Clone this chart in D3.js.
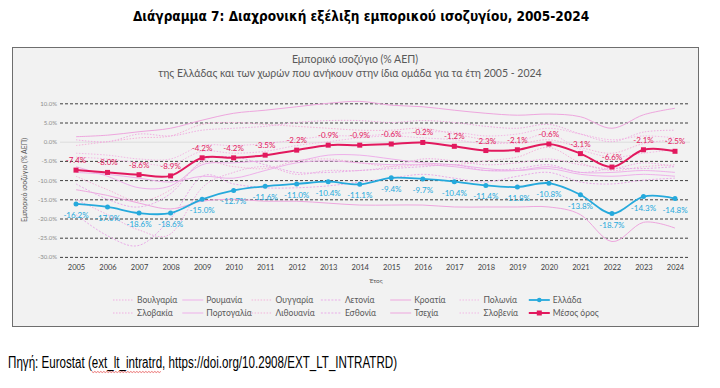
<!DOCTYPE html>
<html>
<head>
<meta charset="utf-8">
<script src="https://cdn.jsdelivr.net/npm/d3@7"></script>
<style>
  body { margin: 0; background: #fff; }
  svg { display: block; }
</style>
</head>
<body>
<div id="chart"></div>
<script>
// --- data ---
var years = ["2005","2006","2007","2008","2009","2010","2011","2012","2013","2014",
             "2015","2016","2017","2018","2019","2020","2021","2022","2023","2024"];

var greece  = [-16.2,-17.0,-18.6,-18.6,-15.0,-12.7,-11.6,-11.0,-10.4,-11.1,
               -9.4,-9.7,-10.4,-11.4,-11.8,-10.8,-13.8,-18.7,-14.3,-14.8];
var average = [-7.4,-8.0,-8.6,-8.9,-4.2,-4.2,-3.5,-2.2,-0.9,-0.9,
               -0.6,-0.2,-1.2,-2.3,-2.1,-0.6,-3.1,-6.6,-2.1,-2.5];

// faint country lines (estimated)
var bulgaria  = [-15.0,-19.0,-23.0,-24.0,-12.0,-8.0,-6.5,-8.5,-7.5,-7.5,-6.5,-4.5,-5.0,-6.0,-5.5,-4.5,-6.0,-7.0,-5.5,-6.5];
var romania   = [-6.5,-9.0,-12.0,-11.5,-6.0,-5.5,-5.0,-5.0,-3.5,-3.5,-4.5,-5.5,-6.0,-7.0,-7.5,-7.0,-8.5,-9.0,-8.5,-9.0];
var hungary   = [-1.0,0.0,1.0,1.5,4.5,5.0,4.5,4.0,3.5,3.0,3.0,3.5,2.0,0.5,-0.5,0.5,-1.5,-3.0,-0.5,0.5];
var latvia    = [-19.0,-24.5,-27.0,-20.0,-9.0,-11.0,-12.0,-12.0,-11.5,-10.5,-9.5,-8.5,-9.5,-10.5,-9.0,-8.0,-10.5,-11.0,-10.0,-9.5];
var croatia   = [-12.5,-14.0,-16.0,-17.5,-15.5,-15.0,-15.5,-15.5,-16.0,-16.5,-16.5,-16.5,-17.0,-17.0,-17.0,-17.0,-19.0,-26.0,-21.0,-22.5];
var poland    = [-3.0,-3.5,-4.5,-4.5,-1.0,-1.0,-0.5,0.5,1.5,1.5,2.0,2.5,2.5,1.5,2.0,3.5,2.0,0.5,1.5,1.0];
var slovakia  = [0.5,0.0,2.0,1.5,3.0,3.5,4.0,5.0,5.5,5.5,5.0,5.5,5.0,4.0,3.5,4.5,2.0,0.0,2.5,3.0];
var portugal  = [-8.0,-8.5,-9.5,-10.5,-9.0,-9.5,-7.5,-5.5,-5.0,-5.5,-6.0,-6.0,-6.5,-7.5,-7.5,-6.5,-8.0,-8.0,-7.5,-8.0];
var lithuania = [-9.0,-12.5,-15.5,-12.5,-5.5,-6.5,-7.0,-5.0,-4.5,-5.5,-6.5,-6.0,-6.0,-5.0,-4.0,-1.5,-5.5,-7.5,-6.5,-6.0];
var estonia   = [-11.0,-15.0,-17.0,-13.5,-5.0,-4.0,-6.0,-8.0,-8.0,-7.5,-7.0,-6.5,-6.0,-7.5,-7.0,-6.0,-8.0,-7.0,-7.0,-6.5];
var czechia   = [1.3,1.7,2.6,3.5,5.6,7.4,8.2,9.1,10.0,10.5,9.5,9.1,8.2,7.4,6.9,7.2,6.5,3.5,7.0,8.7];
var slovenia  = [-4.0,-4.5,-5.5,-6.0,-2.5,-3.0,-2.5,-1.0,0.0,1.0,1.5,1.0,0.5,-0.5,0.0,2.0,-2.0,-4.0,-3.0,-2.0];

// legend order: row 1 then row 2
var countryNames = ["Βουλγαρία","Ρουμανία","Ουγγαρία","Λετονία","Κροατία","Πολωνία",
                    "Σλοβακία","Πορτογαλία","Λιθουανία","Εσθονία","Τσεχία","Σλοβενία"];
var countryValues = [bulgaria, romania, hungary, latvia, croatia, poland,
                     slovakia, portugal, lithuania, estonia, czechia, slovenia];

var yTicks = [10, 5, 0, -5, -10, -15, -20, -25, -30];

// --- layout ---
var W = 720, H = 388;
var svg = d3.select("#chart").append("svg")
  .attr("width", W).attr("height", H);

var chartFont = "Lato, 'Open Sans', sans-serif";
var grey = "#595959";
var blue = "#25A9DC";
var pink = "#E2195E";

svg.append("text")
  .text("Διάγραμμα 7: Διαχρονική εξέλιξη εμπορικού ισοζυγίου, 2005-2024")
  .attr("x", 361).attr("y", 21)
  .attr("text-anchor", "middle")
  .style("font-family", "'Liberation Sans Narrow', 'DejaVu Sans Condensed', sans-serif")
  .style("font-weight", "bold")
  .style("font-size", "13.5px")
  .style("fill", "#000");

// chart frame
svg.append("rect")
  .attr("x", 12.5).attr("y", 47.5)
  .attr("width", 686).attr("height", 279)
  .style("fill", "#f2f2f2")
  .style("stroke", "#6e6e6e")
  .style("stroke-width", 1);

svg.append("text")
  .text("Εμπορικό ισοζύγιο (% ΑΕΠ)")
  .attr("x", 355).attr("y", 63)
  .attr("text-anchor", "middle")
  .style("font-family", chartFont).style("font-size", "10.5px").style("fill", grey);
svg.append("text")
  .text("της Ελλάδας και των χωρών που ανήκουν στην ίδια ομάδα για τα έτη 2005 - 2024")
  .attr("x", 350).attr("y", 76.5)
  .attr("text-anchor", "middle")
  .style("font-family", chartFont).style("font-size", "10.5px").style("fill", grey);

var x = d3.scalePoint().domain(years).range([76, 675]);
var y = d3.scaleLinear().domain([-30, 10]).range([256.9, 103.3]);

// y gridlines + labels
var yAxis = d3.axisLeft(y)
  .tickValues(yTicks)
  .tickSize(-630)
  .tickPadding(3)
  .tickFormat(function(d){ return d.toFixed(1) + "%"; });

var gy = svg.append("g").attr("transform", "translate(60,0)").call(yAxis);
gy.select(".domain").remove();
gy.selectAll("line")
  .style("stroke", function(d){ return d === 0 ? "#dcdcdc" : "#3f3f3f"; })
  .style("stroke-dasharray", function(d){ return d === 0 ? null : "3,2"; })
  .style("stroke-width", 1);
gy.selectAll("text")
  .style("font-family", chartFont).style("font-size", "6px").style("fill", "#8c8c8c");

// x labels
var xAxis = d3.axisBottom(x).tickSize(0).tickPadding(7);
var gx = svg.append("g").attr("transform", "translate(0,258)").call(xAxis);
gx.select(".domain").remove();
gx.selectAll("text")
  .style("font-family", chartFont).style("font-size", "7.5px").style("fill", "#404040");

svg.append("text")
  .text("Έτος")
  .attr("x", 376).attr("y", 283)
  .attr("text-anchor", "middle")
  .style("font-family", chartFont).style("font-size", "6.5px").style("fill", grey);

svg.append("text")
  .text("Εμπορικό ισοζύγιο (% ΑΕΠ)")
  .attr("transform", "translate(27,180) rotate(-90)")
  .attr("text-anchor", "middle")
  .style("font-family", chartFont).style("font-size", "7px").style("fill", grey);

var line = d3.line()
  .x(function(d, i){ return x(years[i]); })
  .y(function(d){ return y(d); })
  .curve(d3.curveCardinal.tension(0));

// faint country lines
var faintColors = ["#f0aee2","#eeb0ea","#f4b3da","#e9ace8","#eea6de","#f2b9e5"];
var faintDash = ["1.5,1.5","none","1.5,1.5","2,1.5","none","1.5,1.5"];

countryValues.forEach(function(vals, i){
  svg.append("path")
    .attr("d", line(vals))
    .style("fill", "none")
    .style("stroke", faintColors[i % faintColors.length])
    .style("stroke-width", 1)
    .style("stroke-dasharray", faintDash[i % faintDash.length]);
});

// average
svg.append("path")
  .attr("d", line(average))
  .style("fill", "none").style("stroke", pink).style("stroke-width", 2);
svg.selectAll("rect.avg").data(average).enter()
  .append("rect").attr("class", "avg")
  .attr("x", function(d, i){ return x(years[i]) - 2.5; })
  .attr("y", function(d){ return y(d) - 2.5; })
  .attr("width", 5).attr("height", 5)
  .style("fill", pink);
svg.selectAll("text.avgLab").data(average).enter()
  .append("text").attr("class", "avgLab")
  .text(function(d){ return d.toFixed(1) + "%"; })
  .attr("x", function(d, i){ return x(years[i]); })
  .attr("y", function(d){ return y(d) - 7; })
  .attr("text-anchor", "middle")
  .style("font-family", chartFont).style("font-size", "8px").style("fill", pink);

// greece
svg.append("path")
  .attr("d", line(greece))
  .style("fill", "none").style("stroke", blue).style("stroke-width", 1.8);
svg.selectAll("circle.gr").data(greece).enter()
  .append("circle").attr("class", "gr")
  .attr("cx", function(d, i){ return x(years[i]); })
  .attr("cy", function(d){ return y(d); })
  .attr("r", 2.5)
  .style("fill", blue);
svg.selectAll("text.grLab").data(greece).enter()
  .append("text").attr("class", "grLab")
  .text(function(d){ return d.toFixed(1) + "%"; })
  .attr("x", function(d, i){ return x(years[i]); })
  .attr("y", function(d){ return y(d) + 14; })
  .attr("text-anchor", "middle")
  .style("font-family", chartFont).style("font-size", "8px").style("fill", blue);

// legend
var legItems = countryNames.map(function(n, i){
  return { name: n, col: i % 6, row: Math.floor(i / 6), kind: "faint", idx: i };
});
legItems.push({ name: "Ελλάδα", col: 6, row: 0, kind: "gr" });
legItems.push({ name: "Μέσος όρος", col: 6, row: 1, kind: "avg" });

var leg = svg.append("g");
legItems.forEach(function(it){
  var tx = 137 + it.col * 69.3;
  var ty = 302.5 + it.row * 13;
  var ln = leg.append("line")
    .attr("x1", tx - 24).attr("x2", tx - 3)
    .attr("y1", ty - 2.5).attr("y2", ty - 2.5);
  if (it.kind === "faint") {
    ln.style("stroke", faintColors[it.idx % faintColors.length])
      .style("stroke-width", 1)
      .style("stroke-dasharray", faintDash[it.idx % faintDash.length]);
  } else if (it.kind === "gr") {
    ln.style("stroke", blue).style("stroke-width", 1.8);
    leg.append("circle").attr("cx", tx - 13.5).attr("cy", ty - 2.5).attr("r", 2.3).style("fill", blue);
  } else {
    ln.style("stroke", pink).style("stroke-width", 2);
    leg.append("rect").attr("x", tx - 16).attr("y", ty - 5).attr("width", 5).attr("height", 5).style("fill", pink);
  }
  leg.append("text")
    .text(it.name)
    .attr("x", tx).attr("y", ty)
    .style("font-family", chartFont).style("font-size", "8.5px").style("fill", grey);
});

// source line
var srcStart = "Πηγή: Eurostat (";
var srcCode = "ext_lt_intratrd";
var srcEnd = ", https://doi.org/10.2908/EXT_LT_INTRATRD)";
var src = svg.append("text")
  .text(srcStart + srcCode + srcEnd)
  .attr("x", 8).attr("y", 368)
  .attr("textLength", 389)
  .attr("lengthAdjust", "spacingAndGlyphs")
  .style("font-family", "'Liberation Sans Narrow', 'Liberation Sans', Arial, sans-serif")
  .style("font-size", "16px").style("fill", "#000");

// red spell-check squiggle under the dataset code
var n0 = srcStart.length, n1 = n0 + srcCode.length - 1;
var sx0 = src.node().getStartPositionOfChar(n0).x;
var sx1 = src.node().getEndPositionOfChar(n1).x;
var wave = [];
for (var px = sx0, k = 0; px <= sx1; px += 1.5, k++) {
  wave.push([px, 371.5 + (k % 2 ? 1 : 0)]);
}
svg.append("path")
  .attr("d", d3.line()(wave))
  .style("fill", "none").style("stroke", "#e03030").style("stroke-width", 0.7);
</script>
</body>
</html>
